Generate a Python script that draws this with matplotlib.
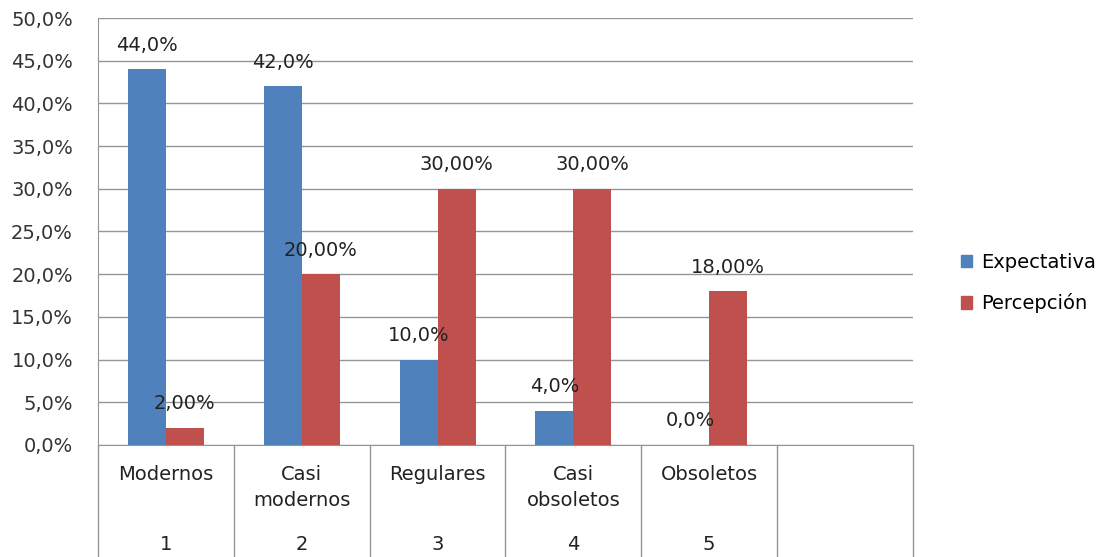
import numpy as np
import matplotlib.pyplot as plt
from matplotlib.patches import Patch

# Datos
categorias = ['Modernos', 'Casi\nmodernos', 'Regulares', 'Casi\nobsoletos', 'Obsoletos']
numeros = ['1', '2', '3', '4', '5']
expectativa = [44.0, 42.0, 10.0, 4.0, 0.0]
percepcion = [2.0, 20.0, 30.0, 30.0, 18.0]
etiquetas_exp = ['44,0%', '42,0%', '10,0%', '4,0%', '0,0%']
etiquetas_per = ['2,00%', '20,00%', '30,00%', '30,00%', '18,00%']
yticks = [0, 5, 10, 15, 20, 25, 30, 35, 40, 45, 50]

azul = '#4F81BD'
rojo = '#C0504D'
gris = '#959595'
fs = 14

W, H = 1106, 557
fig = plt.figure(figsize=(W / 100, H / 100), dpi=100)
plt.rcParams['font.family'] = ['DejaVu Sans']

x0, x1, ytop, ybase = 98, 913, 18, 445
ax = fig.add_axes([x0 / W, (H - ybase) / H, (x1 - x0) / W, (ybase - ytop) / H])

x = np.arange(len(categorias)) + 0.5
ancho = 0.28
ax.bar(x - ancho / 2, expectativa, ancho, color=azul, zorder=3)
ax.bar(x + ancho / 2, percepcion, ancho, color=rojo, zorder=3)

for xi, v, t in zip(x - ancho / 2, expectativa, etiquetas_exp):
    ax.annotate(t, (xi, v), xytext=(0, 24), textcoords='offset pixels',
                ha='center', va='center', fontsize=fs, color='#222222', zorder=4)
for xi, v, t in zip(x + ancho / 2, percepcion, etiquetas_per):
    ax.annotate(t, (xi, v), xytext=(0, 24), textcoords='offset pixels',
                ha='center', va='center', fontsize=fs, color='#222222', zorder=4)

ax.set_xlim(0, 6)
ax.set_ylim(0, 50)
ax.set_yticks(yticks)
ax.set_yticklabels([f'{v:.1f}%'.replace('.', ',') for v in yticks], fontsize=fs, color='#333333')
ax.set_xticks([])
ax.tick_params(axis='y', length=0, pad=18)
ax.grid(axis='y', color=gris, linewidth=1, zorder=0)
for s in ['top', 'right']:
    ax.spines[s].set_visible(False)
ax.spines['left'].set_color(gris)
ax.spines['bottom'].set_color(gris)

# Tabla de categorias debajo
tab = fig.add_axes([x0 / W, 0, (x1 - x0) / W, (H - ybase) / H])
tab.set_xlim(0, 6)
tab.set_ylim(H - ybase, 0)
tab.axis('off')
tab.vlines(np.arange(0, 7), 0, H - ybase, color=gris, linewidth=1, clip_on=False)
for xi, c, n in zip(x, categorias, numeros):
    tab.text(xi, 20, c, ha='center', va='top', fontsize=fs, color='#222222', linespacing=1.45)
    tab.text(xi, 100, n, ha='center', va='center', fontsize=fs, color='#222222')

# Leyenda
handles = [Patch(color=azul, label='Expectativa'), Patch(color=rojo, label='Percepción')]
fig.legend(handles=handles, loc='center left', bbox_to_anchor=(943 / W, 1 - 283 / H),
           frameon=False, fontsize=fs, handlelength=0.6, handleheight=0.6,
           handletextpad=0.45, labelspacing=1.1)

fig.savefig('out.png', dpi=100)
